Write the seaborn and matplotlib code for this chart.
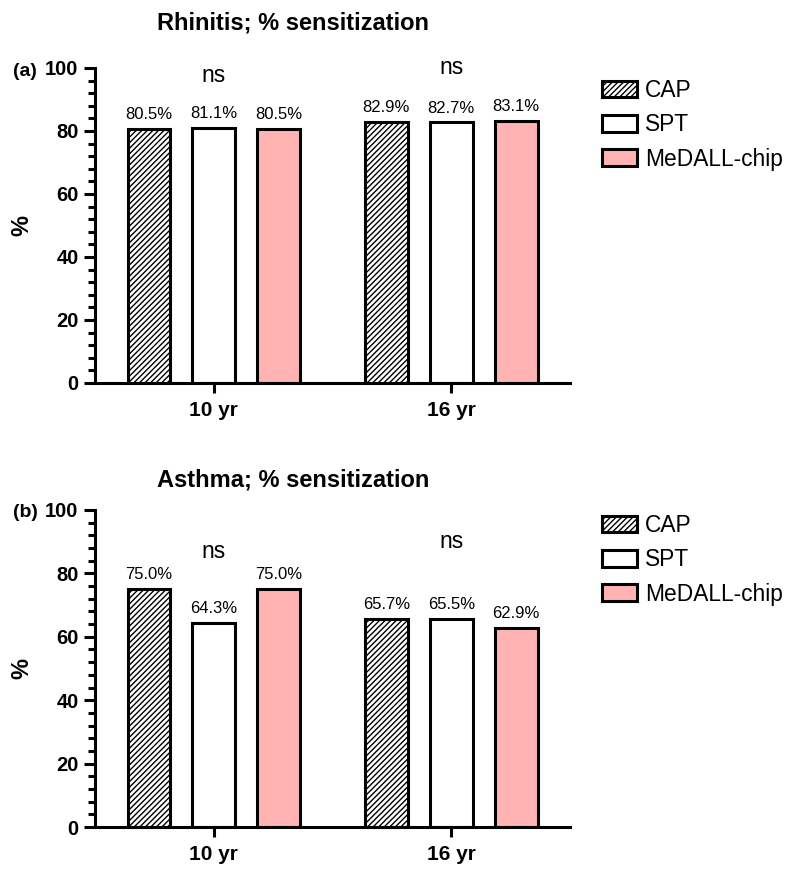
import matplotlib
matplotlib.use("Agg")
import matplotlib.pyplot as plt
import pandas as pd
import seaborn as sns
from matplotlib.ticker import MultipleLocator

ages = ["10 yr", "16 yr"]
methods = ["CAP", "SPT", "MeDALL-chip"]
rhinitis_cap = [80.5, 82.9]
rhinitis_spt = [81.1, 82.7]
rhinitis_chip = [80.5, 83.1]
asthma_cap = [75.0, 65.7]
asthma_spt = [64.3, 65.5]
asthma_chip = [75.0, 62.9]
rhinitis_ns_y = [97.5, 100.0]
asthma_ns_y = [86.8, 90.2]

colors = ["white", "white", "#FFB3B3"]
hatches = ["//////", "", ""]


def make_df(cap, spt, chip):
    rows = []
    for m, vals in zip(methods, [cap, spt, chip]):
        for a, v in zip(ages, vals):
            rows.append({"age": a, "method": m, "pct": v})
    return pd.DataFrame(rows)


sns.set_style("ticks")
plt.rcParams["font.family"] = ["Liberation Sans", "DejaVu Sans"]
plt.rcParams.update({
    "hatch.linewidth": 1.0,
    "text.color": "black",
    "axes.labelcolor": "black",
    "axes.edgecolor": "black",
    "xtick.color": "black",
    "ytick.color": "black",
})

fig = plt.figure(figsize=(8, 8.77), dpi=100)
ax_top = fig.add_axes([0.119, 0.5633, 0.5935, 0.3592])
ax_bot = fig.add_axes([0.119, 0.057, 0.5935, 0.3615])

panels = [
    (ax_top, make_df(rhinitis_cap, rhinitis_spt, rhinitis_chip), rhinitis_ns_y,
     "Rhinitis; % sensitization", 0.974, "(a)", 0.919, 0.91),
    (ax_bot, make_df(asthma_cap, asthma_spt, asthma_chip), asthma_ns_y,
     "Asthma; % sensitization", 0.453, "(b)", 0.416, 0.414),
]

for ax, df, ns_y, title, ty, tag, tag_y, leg_y in panels:
    sns.barplot(data=df, x="age", y="pct", hue="method", hue_order=methods,
                order=ages, palette=colors, saturation=1, width=0.82, gap=0.34,
                edgecolor="black", linewidth=2.2, legend=False, ax=ax)
    for cont, h, m in zip(ax.containers, hatches, methods):
        for p in cont.patches:
            p.set_hatch(h)
        vals = df[df["method"] == m].set_index("age").loc[ages, "pct"]
        ax.bar_label(cont, labels=[f"{v:.1f}%" for v in vals], padding=5,
                     fontsize=12)
    for i, y in enumerate(ns_y):
        ax.text(i, y, "ns", ha="center", va="center", fontsize=16.5)

    ax.set_xlim(-0.5, 1.5)
    ax.set_ylim(0, 100)
    ax.yaxis.set_major_locator(MultipleLocator(20))
    ax.yaxis.set_minor_locator(MultipleLocator(4))
    ax.set_xlabel("")
    ax.set_ylabel("%", fontsize=17, fontweight="bold")
    ax.yaxis.set_label_coords(-0.13, 0.5)
    ax.tick_params(axis="y", which="major", length=8, width=2.2,
                   labelsize=14.5, pad=4)
    ax.tick_params(axis="y", which="minor", length=5, width=2.2)
    ax.tick_params(axis="x", length=7, width=2.2, labelsize=15, pad=6)
    for lab in ax.get_xticklabels() + ax.get_yticklabels():
        lab.set_fontweight("bold")
    sns.despine(ax=ax)
    for s in ["left", "bottom"]:
        ax.spines[s].set_linewidth(2.2)

    fig.text(0.366, ty, title, ha="center", va="center", fontsize=17,
             fontweight="bold")
    fig.text(0.016, tag_y, tag, ha="left", va="center", fontsize=14,
             fontweight="bold")

    ax.legend(ax.containers, methods, loc="upper left",
              bbox_to_anchor=(0.753, leg_y), bbox_transform=fig.transFigure,
              frameon=False, fontsize=16.4, handlelength=1.53,
              handleheight=0.75, labelspacing=0.5, handletextpad=0.35,
              borderpad=0, borderaxespad=0)

fig.savefig("out.png", dpi=100)
